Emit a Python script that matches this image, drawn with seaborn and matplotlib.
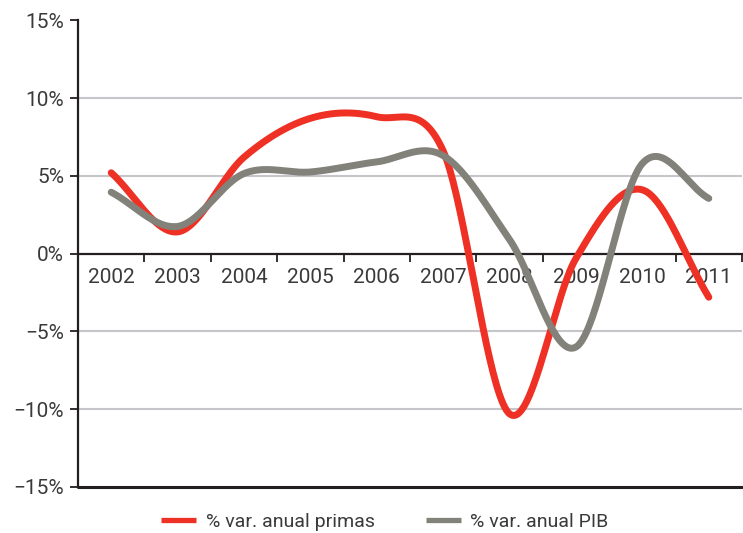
import numpy as np
import pandas as pd
import matplotlib
matplotlib.use("Agg")
import matplotlib.pyplot as plt
import seaborn as sns
from matplotlib.lines import Line2D

# ---- data ----
years = ["2002", "2003", "2004", "2005", "2006", "2007", "2008", "2009", "2010", "2011"]
primas = [5.2, 1.4, 6.2, 8.7, 8.8, 6.6, -10.3, -0.3, 4.1, -2.8]
pib = [3.95, 1.75, 5.15, 5.25, 5.9, 6.3, 0.9, -6.0, 5.8, 3.55]
series_names = ["% var. anual primas", "% var. anual PIB"]
y_ticks = [15, 10, 5, 0, -5, -10, -15]
y_tick_labels = ["15%", "10%", "5%", "0%", "\u22125%", "\u221210%", "\u221215%"]

sns.set_theme(style="white")
plt.rcParams["font.family"] = ["Roboto", "DejaVu Sans"]

TEXT = "#3a3a3a"
RED = "#ee3124"
GRAY = "#82827a"


def smooth(vals, n=40):
    """Catmull-Rom style smoothing (as Excel's smoothed line) through the data points."""
    v = np.asarray(vals, float)
    x = np.arange(len(v), dtype=float)
    xs, ys = [], []
    for i in range(len(v) - 1):
        p0 = v[i - 1] if i > 0 else v[i]
        p3 = v[i + 2] if i + 2 < len(v) else v[i + 1]
        m1 = (v[i + 1] - p0) / (2 if i > 0 else 1)
        m2 = (p3 - v[i]) / (2 if i + 2 < len(v) else 1)
        t = np.linspace(0, 1, n, endpoint=(i == len(v) - 2))
        h00 = 2 * t**3 - 3 * t**2 + 1
        h10 = t**3 - 2 * t**2 + t
        h01 = -2 * t**3 + 3 * t**2
        h11 = t**3 - t**2
        ys.append(h00 * v[i] + h10 * m1 + h01 * v[i + 1] + h11 * m2)
        xs.append(x[i] + t)
    return np.concatenate(xs), np.concatenate(ys)


frames = []
for name, vals in zip(series_names, [primas, pib]):
    sx, sy = smooth(vals)
    frames.append(pd.DataFrame({"x": sx, "y": sy, "serie": name}))
df = pd.concat(frames, ignore_index=True)

fig = plt.figure(figsize=(7.43, 5.33), dpi=100)
ax = fig.add_axes([78 / 743, 1 - 487 / 533, (742 - 78) / 743, (487 - 20.3) / 533])

# gridlines
for g in [10, 5, -5, -10]:
    ax.axhline(g, color="#c6c6ca", lw=1.5, zorder=0)

sns.lineplot(data=df, x="x", y="y", hue="serie", palette=[RED, GRAY],
             lw=5, sort=False, estimator=None, ax=ax, legend=False,
             solid_capstyle="round")

ax.set_xlim(-0.5, 9.5)
ax.set_ylim(-15, 15)
ax.set_xlabel("")
ax.set_ylabel("")

# spines
for s in ["top", "right"]:
    ax.spines[s].set_visible(False)
ax.spines["left"].set_color("#231f20")
ax.spines["left"].set_linewidth(1.6)
ax.spines["bottom"].set_position(("data", 0))
ax.spines["bottom"].set_color("#231f20")
ax.spines["bottom"].set_linewidth(1.6)
ax.spines["bottom"].set_zorder(1)
ax.axhline(-15, color="#231f20", lw=2.2, clip_on=False, zorder=1)

ax.set_yticks(y_ticks)
ax.set_yticklabels(y_tick_labels)
ax.tick_params(axis="y", direction="out", length=6, width=1.3, color="#231f20",
               labelsize=15, labelcolor=TEXT, pad=4, left=True)

ax.set_xticks(range(len(years)))
ax.set_xticklabels(years)
ax.set_xticks(np.arange(0.5, 10, 1.0), minor=True)
ax.tick_params(axis="x", which="major", length=0, labelsize=15, labelcolor=TEXT, pad=10)
ax.tick_params(axis="x", which="minor", direction="out", length=5.5, width=1.3,
               color="#231f20", bottom=True)

handles = [Line2D([], [], color=RED, lw=3.8, solid_capstyle="butt"),
           Line2D([], [], color=GRAY, lw=3.8, solid_capstyle="butt")]
fig.legend(handles, series_names, loc="center", bbox_to_anchor=(385 / 743, 1 - 522 / 533),
           ncol=2, frameon=False, fontsize=14, labelcolor=TEXT, handlelength=1.8,
           handletextpad=0.5, columnspacing=2.6)

fig.savefig("out.png", dpi=100)
